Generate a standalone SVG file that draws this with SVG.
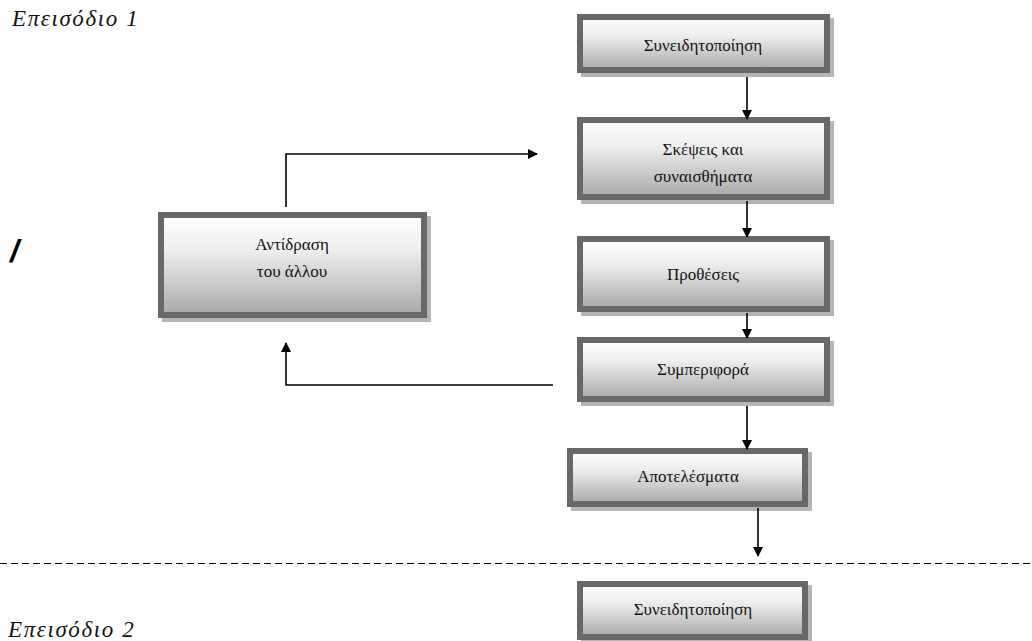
<svg xmlns="http://www.w3.org/2000/svg" width="1032" height="641" viewBox="0 0 1032 641">
<defs>
<linearGradient id="g" x1="0" y1="0" x2="0" y2="1">
<stop offset="0" stop-color="#ffffff"/>
<stop offset="0.35" stop-color="#eeeeee"/>
<stop offset="1" stop-color="#a8a8a8"/>
</linearGradient>
<marker id="ah" markerWidth="10" markerHeight="10" refX="9" refY="5" orient="auto" markerUnits="userSpaceOnUse" viewBox="0 0 10 10">
<path d="M0,0 L10,5 L0,10 z" fill="#000"/>
</marker>
</defs>
<style>
.sh{fill:#b5b5b5}
.bx{fill:url(#g);stroke:#686868;stroke-width:6}
.t{font-family:"Liberation Serif","DejaVu Serif",serif;font-size:17px;fill:#141414;text-anchor:middle}
.ep{font-family:"Liberation Serif","DejaVu Serif",serif;font-size:23px;font-style:italic;letter-spacing:1.6px;fill:#141414}
.c{fill:none;stroke:#000;stroke-width:1.6}
</style>
<text class="ep" x="12" y="26">Επεισόδιο 1</text>
<text class="ep" x="8" y="637">Επεισόδιο 2</text>
<text x="10" y="262" style="font-family:'Liberation Sans',sans-serif;font-size:32px;font-weight:bold;font-style:italic;fill:#000">/</text>

<g id="n1"><rect class="sh" x="581" y="18" width="253" height="59"/><rect class="bx" x="580" y="17" width="247" height="53"/><text class="t" x="703" y="51">Συνειδητοποίηση</text></g>
<g id="n2"><rect class="sh" x="581" y="121" width="253" height="83"/><rect class="bx" x="580" y="120" width="247" height="77"/><text class="t" x="703" y="155">Σκέψεις και</text><text class="t" x="703" y="182">συναισθήματα</text></g>
<g id="n3"><rect class="sh" x="581" y="240" width="253" height="76"/><rect class="bx" x="580" y="239" width="247" height="70"/><text class="t" x="703" y="280">Προθέσεις</text></g>
<g id="n4"><rect class="sh" x="581" y="341" width="253" height="65"/><rect class="bx" x="580" y="340" width="247" height="59"/><text class="t" x="703" y="375">Συμπεριφορά</text></g>
<g id="n5"><rect class="sh" x="571" y="452" width="241" height="59"/><rect class="bx" x="570" y="451" width="235" height="53"/><text class="t" x="688" y="482">Αποτελέσματα</text></g>
<g id="n6"><rect class="sh" x="581" y="585" width="231" height="59"/><rect class="bx" x="580" y="584" width="225" height="53"/><text class="t" x="693" y="615">Συνειδητοποίηση</text></g>
<g id="n7"><rect class="sh" x="162" y="216" width="269" height="106"/><rect class="bx" x="161" y="215" width="263" height="100"/><text class="t" x="292" y="250">Αντίδραση</text><text class="t" x="292" y="277">του άλλου</text></g>

<g id="connectors">
<line class="c" x1="747" y1="77" x2="747" y2="119" marker-end="url(#ah)"/>
<line class="c" x1="747" y1="201" x2="747" y2="237" marker-end="url(#ah)"/>
<line class="c" x1="747" y1="313" x2="747" y2="338" marker-end="url(#ah)"/>
<line class="c" x1="747" y1="406" x2="747" y2="449" marker-end="url(#ah)"/>
<line class="c" x1="758" y1="508" x2="758" y2="556" marker-end="url(#ah)"/>
<polyline class="c" points="286,207 286,154 537,154" marker-end="url(#ah)"/>
<polyline class="c" points="553,385 286,385 286,343" marker-end="url(#ah)"/>
<line x1="0" y1="563.5" x2="1032" y2="563.5" stroke="#000" stroke-width="1" stroke-dasharray="7,4"/>
</g>
</svg>
